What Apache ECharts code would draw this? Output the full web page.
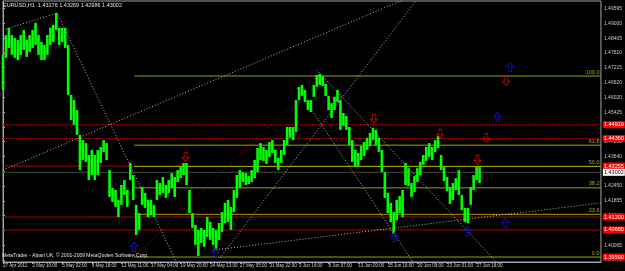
<!DOCTYPE html>
<html><head><meta charset="utf-8">
<script src="https://cdn.jsdelivr.net/npm/echarts@6/dist/echarts.min.js"></script>
<style>html,body{margin:0;padding:0;background:#000;}#c{width:625px;height:271px;}</style>
</head><body><div id="c"></div>
<script>
// ---- data ----
const timeLabels = ['27 Apr 2011','2 May 10:00','5 May 02:00','9 May 18:00','12 May 11:00','17 May 04:00','19 May 20:00','24 May 13:00','27 May 05:00','31 May 22:00','3 Jun 14:00','8 Jun 07:00','13 Jun 00:00','15 Jun 16:00','20 Jun 09:00','23 Jun 01:00','27 Jun 18:00'];
const priceTicks = [1.39470,1.40065,1.40660,1.41260,1.41855,1.42450,1.43045,1.43640,1.44235,1.44830,1.45425,1.46020,1.46620,1.47215,1.47810,1.48405,1.49000,1.49595];
const barHigh = [1.4773,1.4853,1.4882,1.4853,1.4841,1.4833,1.4853,1.4873,1.4833,1.4853,
1.4873,1.4902,1.4853,1.4825,1.4813,1.4853,1.4882,1.4894,1.4942,1.4882,
1.4882,1.4882,1.4813,1.4612,1.4591,1.4551,1.4451,1.4430,1.4418,1.4370,
1.4390,1.4370,1.4390,1.4402,1.4430,1.4418,1.4309,1.4237,1.4229,1.4189,
1.4249,1.4269,1.4229,1.4338,1.4289,1.4169,1.4136,1.4241,1.4217,1.4189,
1.4189,1.4169,1.4269,1.4257,1.4281,1.4249,1.4269,1.4297,1.4281,1.4309,
1.4321,1.4338,1.4338,1.4229,1.4136,1.4088,1.4068,1.4076,1.4068,1.4120,
1.4100,1.4076,1.4068,1.4096,1.4140,1.4177,1.4189,1.4161,1.4229,1.4289,
1.4309,1.4301,1.4297,1.4285,1.4309,1.4350,1.4398,1.4418,1.4402,1.4390,
1.4422,1.4430,1.4390,1.4358,1.4390,1.4430,1.4483,1.4483,1.4483,1.4591,
1.4644,1.4652,1.4632,1.4591,1.4591,1.4652,1.4692,1.4696,1.4688,1.4656,
1.4608,1.4579,1.4604,1.4632,1.4591,1.4539,1.4527,1.4483,1.4430,1.4390,
1.4378,1.4406,1.4422,1.4439,1.4459,1.4479,1.4471,1.4439,1.4390,1.4301,
1.4217,1.4177,1.4140,1.4189,1.4205,1.4229,1.4338,1.4317,1.4257,1.4285,
1.4317,1.4342,1.4370,1.4402,1.4418,1.4402,1.4430,1.4447,1.4370,1.4321,
1.4281,1.4241,1.4257,1.4277,1.4309,1.4209,1.4157,1.4157,1.4241,1.4289,
1.4321,1.4321];
const barLow = [1.4632,1.4761,1.4801,1.4773,1.4761,1.4752,1.4773,1.4793,1.4765,1.4785,
1.4801,1.4813,1.4773,1.4752,1.4752,1.4773,1.4813,1.4825,1.4873,1.4813,
1.4825,1.4801,1.4612,1.4511,1.4491,1.4451,1.4309,1.4350,1.4342,1.4269,
1.4289,1.4269,1.4289,1.4338,1.4382,1.4350,1.4201,1.4181,1.4161,1.4120,
1.4169,1.4209,1.4161,1.4269,1.4189,1.4048,1.4068,1.4169,1.4157,1.4120,
1.4128,1.4120,1.4189,1.4209,1.4217,1.4197,1.4217,1.4237,1.4201,1.4261,
1.4277,1.4289,1.4249,1.4136,1.4076,1.4008,1.3963,1.4016,1.4000,1.4040,
1.4028,1.4008,1.3987,1.4028,1.4060,1.4096,1.4100,1.4068,1.4140,1.4197,
1.4237,1.4261,1.4249,1.4253,1.4261,1.4277,1.4301,1.4350,1.4346,1.4334,
1.4362,1.4378,1.4338,1.4309,1.4338,1.4370,1.4410,1.4439,1.4430,1.4463,
1.4591,1.4608,1.4583,1.4551,1.4543,1.4604,1.4644,1.4652,1.4648,1.4608,
1.4551,1.4519,1.4551,1.4583,1.4471,1.4487,1.4471,1.4410,1.4342,1.4321,
1.4326,1.4350,1.4366,1.4390,1.4406,1.4430,1.4410,1.4382,1.4301,1.4197,
1.4136,1.4100,1.4052,1.4108,1.4136,1.4120,1.4249,1.4245,1.4201,1.4221,
1.4261,1.4289,1.4330,1.4346,1.4362,1.4350,1.4382,1.4398,1.4309,1.4265,
1.4225,1.4173,1.4189,1.4229,1.4209,1.4148,1.4100,1.4096,1.4169,1.4229,
1.4269,1.4257];
const redDottedLevels = [1.44919, 1.44360];
const redSolidLevels = [1.43255, 1.41200, 1.40680];
const currentPrice = 1.43002;
const fibNames = ['0.0','23.6','38.2','50.0','61.8','100.0'];
const fibPrices = [1.39590,1.41310,1.42375,1.43235,1.44095,1.46880];
const fibStartX = 44.3;
const trendLines = [
  [[0,1.4873],[18.3,1.4942]],
  [[18.3,1.4942],[58.7,1.3935]],
  [[0,1.4309],[135,1.4994]],
  [[73.3,1.3955],[139.7,1.4994]],
  [[106,1.4712],[167,1.3935]],
  [[99.3,1.4640],[138.7,1.3935]],
  [[71,1.3987],[202,1.4177]]
];
const fibTrend = [[44.3,1.3959],[107.7,1.4688]];
const downArrows = [[61.7,1.4362],[125.3,1.4515],[147.7,1.4455],[163.3,1.4439],[160.3,1.4350],[170,1.4668]];
const upArrows = [[171.3,1.4724],[167,1.4523],[169.7,1.4096],[157,1.4064],[132.3,1.4040],[44.3,1.4000],[72,1.3975]];
const headerText = 'EURUSD,H1  1.43176 1.43269 1.42986 1.43002';
const footerText = 'MetaTrader - Alpari UK, © 2001-2009 MetaQuotes Software Corp.';

// ---- chart ----
const FONT = 'Liberation Sans Narrow, Liberation Sans, sans-serif';
const XMAX = 202;
const chart = echarts.init(document.getElementById('c'), null, {renderer:'canvas'});
const series = [];
function hline(x0, p, color, type, labelBg, labelColor) {
  const s = {type:'line', data:[[x0,p],[XMAX,p]], showSymbol:false, symbol:'none', silent:true, animation:false,
    lineStyle:{color:color, width:1, type:type}, z:2};
  if (labelBg) {
    s.endLabel = {show:true, formatter: p.toFixed(5), backgroundColor:labelBg, color:labelColor, fontSize:5.5,
      fontFamily:FONT, padding:[1,1,0,1], distance:2};
  }
  series.push(s);
}
redDottedLevels.forEach(p => hline(0, p, '#c00000', [2,1], '#ff0000', '#ffffff'));
redSolidLevels.forEach(p => hline(0, p, '#b40000', 'solid', '#ff0000', '#ffffff'));
hline(0, currentPrice, '#3a4a3e', 'solid', '#ffffff', '#000000');
fibPrices.forEach((p, i) => hline(fibStartX, p, '#a0a000', 'solid', i === 0 ? '#ff0000' : null, '#ffffff'));
trendLines.forEach(seg => series.push({type:'line', data:seg, showSymbol:false, symbol:'none', silent:true, animation:false,
  lineStyle:{color:'#b8b8b8', width:1, type:[1,2]}, z:3}));
series.push({type:'line', data:fibTrend, showSymbol:false, symbol:'none', silent:true, animation:false,
  lineStyle:{color:'#c00000', width:1, type:[1,2]}, z:3});
series.push({
  type:'custom', animation:false, silent:true, z:5,
  data: barHigh.map((h, i) => [i, h, barLow[i]]),
  renderItem: function (params, api) {
    const x = api.value(0);
    const a = api.coord([x, api.value(1)]);
    const b = api.coord([x, api.value(2)]);
    return {type:'rect', shape:{x:a[0]-1.3, y:a[1], width:2.6, height:Math.max(1, b[1]-a[1])}, style:{fill:'#00ff00'}};
  }
});
series.push({type:'scatter', symbolSize:0, silent:true, animation:false, z:6,
  data: fibPrices.map((p, i) => ({value:[201.5, p], label:{formatter: fibNames[i]}})),
  label:{show:true, position:'left', distance:0, offset:[0,-4], color:'#cccc33', fontSize:5.5, fontFamily:FONT}});
series.push({type:'scatter', silent:true, animation:false, z:7, data:downArrows,
  symbol:'path://M3,0L7,0L7,6L10,6L5,11L0,6L3,6Z', symbolSize:[7,9],
  itemStyle:{color:'rgba(0,0,0,0)', borderColor:'#e00000', borderWidth:1}});
series.push({type:'scatter', silent:true, animation:false, z:7, data:upArrows,
  symbol:'path://M5,0L10,5L7,5L7,11L3,11L3,5L0,5Z', symbolSize:[7,9],
  itemStyle:{color:'rgba(0,0,0,0)', borderColor:'#1010e0', borderWidth:1}});

const xTickVals = timeLabels.map((_, i) => i * 10);
chart.setOption({
  backgroundColor:'#000000',
  animation:false,
  grid:{left:2, right:17, top:1, bottom:9, show:true, borderColor:'#a0a0a0', borderWidth:1, backgroundColor:'#000000'},
  xAxis:{type:'value', min:0, max:XMAX,
    axisLine:{show:true, lineStyle:{color:'#a8a8a8'}},
    axisTick:{show:true, customValues:xTickVals, length:2, inside:false, lineStyle:{color:'#a8a8a8'}},
    axisLabel:{customValues:xTickVals, formatter: v => timeLabels[Math.round(v/10)] || '', align:'left',
      margin:1, color:'#d0d0d0', fontSize:4.5, fontFamily:FONT},
    splitLine:{show:false}},
  yAxis:{type:'value', position:'right', min:1.3939, max:1.4990,
    axisLine:{show:true, lineStyle:{color:'#a8a8a8'}},
    axisTick:{show:true, customValues:priceTicks, length:2, lineStyle:{color:'#a8a8a8'}},
    axisLabel:{customValues:priceTicks, formatter: v => v.toFixed(5), margin:3, color:'#c8c8c8', fontSize:5, fontFamily:FONT},
    splitLine:{show:false}},
  graphic:[
    {type:'text', left:3, top:2, z:100, style:{text:headerText, fill:'#e0e0e0', fontSize:5.5, fontFamily:FONT}},
    {type:'text', left:2, top:253, z:100, style:{text:footerText, fill:'#e0e0e0', fontSize:5, fontFamily:FONT}}
  ],
  series: series
});
</script></body></html>
